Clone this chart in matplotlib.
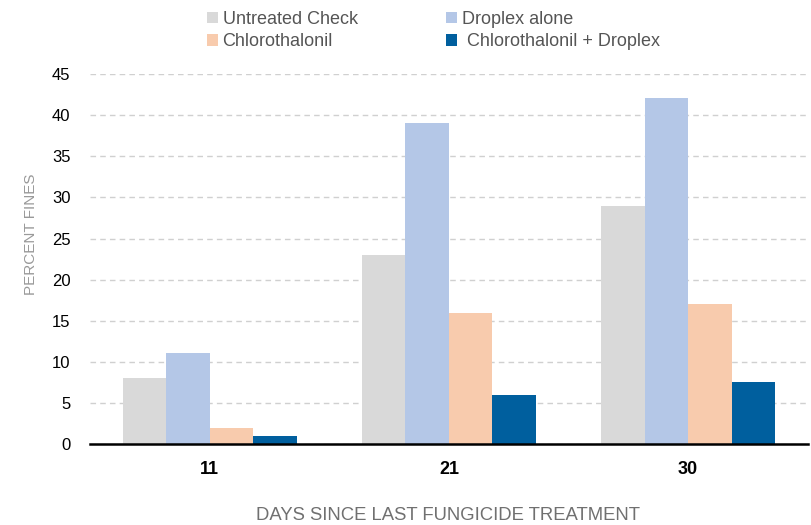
import numpy as np
from matplotlib import pyplot as plt
from matplotlib.patches import Patch

plt.rcParams['font.family'] = ['Liberation Sans', 'DejaVu Sans']

days = ["11", "21", "30"]
series_names = ["Untreated Check", "Droplex alone", "Chlorothalonil", " Chlorothalonil + Droplex"]
untreated = [8, 23, 29]
droplex = [11.1, 39.1, 42.1]
chloro = [2, 16, 17]
chloro_droplex = [1, 6, 7.5]
colors = ["#D9D9D9", "#B4C7E7", "#F8CBAD", "#005F9E"]

fig = plt.figure(figsize=(8.11, 5.25), dpi=100)
ax = fig.add_axes([0.111, 0.154, 0.885, 0.705])

x = np.arange(len(days))
w = 0.182
all_vals = [untreated, droplex, chloro, chloro_droplex]
for i, vals in enumerate(all_vals):
    ax.bar(x + (i - 1.5) * w, vals, w, color=colors[i], zorder=3)

ax.set_xlim(-0.5, 2.5)
ax.set_ylim(0, 45)
ax.set_yticks(range(0, 46, 5))
ax.set_xticks(x)
ax.set_xticklabels(days, fontsize=13, fontweight='bold')
ax.tick_params(axis='y', labelsize=12, length=0, pad=14)
ax.tick_params(axis='x', length=0, pad=12)
ax.grid(axis='y', color='#D0D0D0', linestyle=(0, (4, 3)), linewidth=1, zorder=0)
for s in ['top', 'right', 'left']:
    ax.spines[s].set_visible(False)
ax.spines['bottom'].set_linewidth(1.8)
ax.spines['bottom'].set_zorder(4)

fig.text(448 / 811, 1 - 515 / 525, "DAYS SINCE LAST FUNGICIDE TREATMENT", fontsize=13.3,
         color='#707070', ha='center', va='center')
fig.text(31 / 811, 1 - 234 / 525, "PERCENT FINES", fontsize=11, color='#999999',
         ha='center', va='center', rotation=90)

# legend, column-major order for two rows
order = [0, 2, 1, 3]
handles = [Patch(facecolor=colors[i]) for i in order]
labels = [series_names[i] for i in order]
fig.legend(handles, labels, ncol=2, loc='upper left', bbox_to_anchor=(191 / 811, 1.01),
           frameon=False, fontsize=13, labelcolor='#555555', handlelength=0.6,
           handleheight=0.6, handletextpad=0.25, columnspacing=4.9, labelspacing=0.3)

fig.savefig("out.png", dpi=100)
